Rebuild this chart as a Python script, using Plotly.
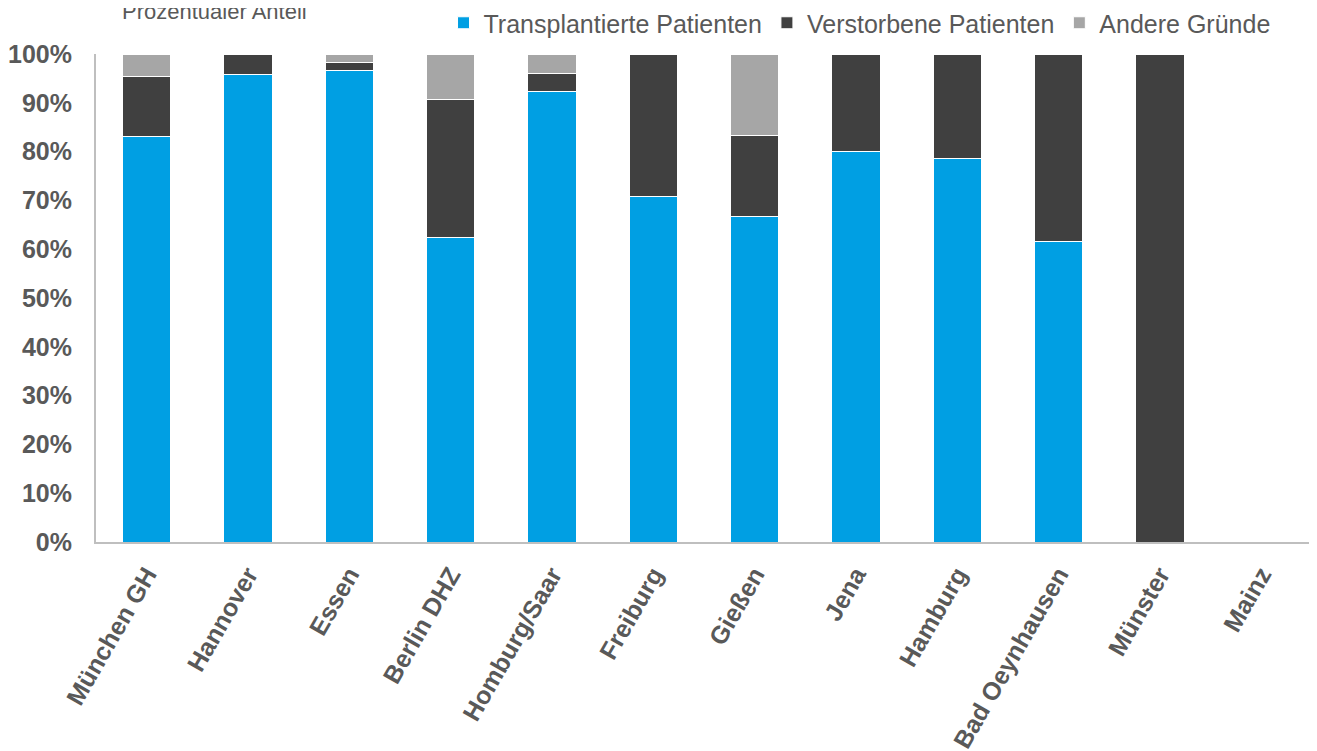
import plotly.graph_objects as go

categories = ["München GH", "Hannover", "Essen", "Berlin DHZ", "Homburg/Saar", "Freiburg",
              "Gießen", "Jena", "Hamburg", "Bad Oeynhausen", "Münster", "Mainz"]
transplantiert = [0.830, 0.959, 0.966, 0.625, 0.923, 0.708, 0.667, 0.800, 0.786, 0.615, 0.0, 0.0]
verstorben = [0.123, 0.041, 0.016, 0.281, 0.038, 0.292, 0.167, 0.200, 0.214, 0.385, 1.0, 0.0]
andere = [0.047, 0.0, 0.018, 0.094, 0.039, 0.0, 0.166, 0.0, 0.0, 0.0, 0.0, 0.0]

series = [
    ("Transplantierte Patienten", transplantiert, "#009FE3"),
    ("Verstorbene Patienten", verstorben, "#404040"),
    ("Andere Gründe", andere, "#A6A6A6"),
]

fig = go.Figure()
for name, vals, col in series:
    fig.add_trace(go.Bar(
        x=categories, y=vals, name=name,
        marker=dict(color=col, line=dict(color="white", width=1)),
        width=0.475,
    ))

fig.update_layout(
    barmode="stack",
    width=1309, height=743,
    margin=dict(l=88, r=5, t=46, b=209, autoexpand=False),
    paper_bgcolor="white", plot_bgcolor="white",
    font=dict(family="Liberation Sans, Arial", color="#595959"),
    legend=dict(orientation="h", x=0.970, xanchor="right", y=1.0635, yanchor="middle",
                font=dict(size=25, color="#595959"), traceorder="normal",
                itemwidth=30, bgcolor="rgba(0,0,0,0)"),
    annotations=[dict(text="Prozentualer Anteil", xref="paper", yref="paper",
                      x=0.0197, y=1.088, xanchor="left", yanchor="middle",
                      showarrow=False, font=dict(size=22, color="#595959"))],
)
fig.update_yaxes(range=[0, 1], tickformat=".0%", dtick=0.1, showgrid=False,
                 showline=True, linecolor="#BFBFBF", linewidth=2, ticks="",
                 tickfont=dict(size=25, color="#595959", weight="bold"),
                 ticklabelstandoff=17, automargin=False)
fig.update_xaxes(showline=True, linecolor="#BFBFBF", linewidth=2, ticks="",
                 tickangle=-60, showgrid=False, automargin=False,
                 tickfont=dict(size=25, color="#595959", weight="bold"),
                 ticklabelstandoff=6)

fig.write_html("out.html")
